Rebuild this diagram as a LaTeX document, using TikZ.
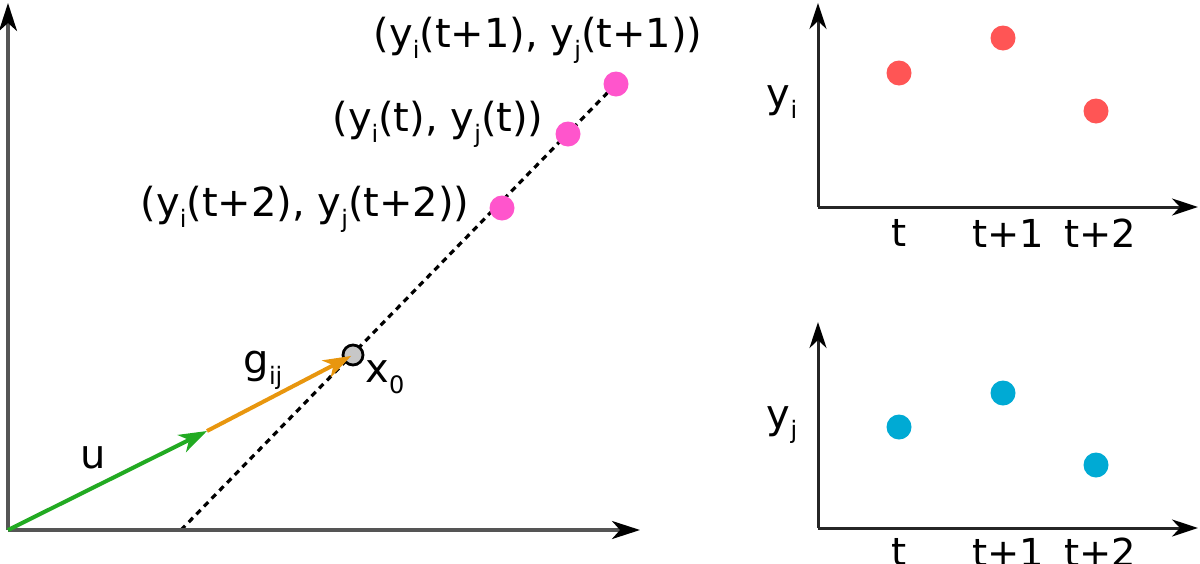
\documentclass[tikz,border=0pt]{standalone}
\usepackage{fontspec}
\usepackage{graphicx}
\setmainfont{DejaVu Sans}
\usetikzlibrary{arrows.meta,backgrounds}
\definecolor{pinkpt}{HTML}{FF55CC}
\definecolor{redpt}{HTML}{FF5555}
\definecolor{cyanpt}{HTML}{00AAD4}
\definecolor{greenarr}{HTML}{22AA22}
\definecolor{orangearr}{HTML}{E8960E}
\definecolor{axisgray}{HTML}{555555}
\newcommand\sbs[1]{\raisebox{-0.27em}{\scalebox{0.6}{#1}}}
\tikzset{
  axisline/.style={line width=3.2pt, draw=axisgray, -{Stealth[length=28pt,width=18pt,inset=8pt,color=black]}},
  axisdark/.style={line width=3pt, draw=black!85, -{Stealth[length=26pt,width=17pt,inset=8pt,color=black]}},
  dot/.style={circle, inner sep=0pt, minimum size=25pt},
  pinkdot/.style={dot, fill=pinkpt},
  reddot/.style={dot, fill=redpt},
  cyandot/.style={dot, fill=cyanpt},
  lbl/.style={font=\fontsize{40}{46}\selectfont, inner sep=0pt},
  ticklbl/.style={font=\fontsize{38.5}{44}\selectfont, inner sep=0pt},
  dashline/.style={line width=3.2pt, dash pattern=on 6pt off 5pt, draw=black},
  vecarrow/.style={line width=4pt, -{Stealth[length=28pt,width=19pt,inset=8pt]}},
}
\begin{document}
\begin{tikzpicture}[x=1pt,y=-1pt]
\useasboundingbox (0,0) rectangle (1200,563);
% ---------- left plot ----------
\coordinate (O) at (8,530);
\coordinate (Ytip) at (8,3);
\coordinate (Xtip) at (640,530);
\draw[axisline] (O) -- (Ytip);
\draw[axisline] (O) -- (Xtip);

\coordinate (D0) at (181,530);
\node[pinkdot] (p1) at (616,84) {};
\node[pinkdot] (p2) at (568,134) {};
\node[pinkdot] (p3) at (502,208) {};
\node[circle, draw=black, fill=black!22, line width=2.8pt, minimum size=20pt, inner sep=0pt] (x0) at (353,355) {};
\begin{scope}[on background layer]
  \draw[dashline] (D0) -- (p1.center);
\end{scope}

\coordinate (M) at (207,431);
\draw[vecarrow, draw=greenarr, color=greenarr] (O) -- (M);
\draw[vecarrow, draw=orangearr, color=orangearr, shorten >=2pt] (M) -- (x0.center);

\node[lbl] (ul) at (93,458) {u};
\node[lbl] (gl) at (263,370) {g\sbs{ij}};
\node[lbl] (xl) at (385,377) {x\sbs{0}};

\node[lbl] (l1) at (538,40) {(y\sbs{i}(t+1), y\sbs{j}(t+1))};
\node[lbl] (l2) at (438,124) {(y\sbs{i}(t), y\sbs{j}(t))};
\node[lbl] (l3) at (305,209) {(y\sbs{i}(t+2), y\sbs{j}(t+2))};

% ---------- right top plot ----------
\coordinate (O2) at (818,207);
\coordinate (Y2) at (818,3);
\coordinate (X2) at (1198,207);
\draw[axisdark] (O2) -- (Y2);
\draw[axisdark] (O2) -- (X2);
\node[reddot] (r1) at (899,73) {};
\node[reddot] (r2) at (1003,38) {};
\node[reddot] (r3) at (1096,111) {};
\node[lbl] (yi) at (782,102) {y\sbs{i}};
\node[ticklbl] (t1a) at (899,233) {t};
\node[ticklbl] (t2a) at (1008,233) {t+1};
\node[ticklbl] (t3a) at (1100,233) {t+2};

% ---------- right bottom plot ----------
\coordinate (O3) at (818,528);
\coordinate (Y3) at (818,322);
\coordinate (X3) at (1198,528);
\draw[axisdark] (O3) -- (Y3);
\draw[axisdark] (O3) -- (X3);
\node[cyandot] (c1) at (899,427) {};
\node[cyandot] (c2) at (1003,393) {};
\node[cyandot] (c3) at (1096,465) {};
\node[lbl] (yj) at (782,425) {y\sbs{j}};
\node[ticklbl] (t1b) at (899,552) {t};
\node[ticklbl] (t2b) at (1008,552) {t+1};
\node[ticklbl] (t3b) at (1100,552) {t+2};
\end{tikzpicture}
\end{document}
